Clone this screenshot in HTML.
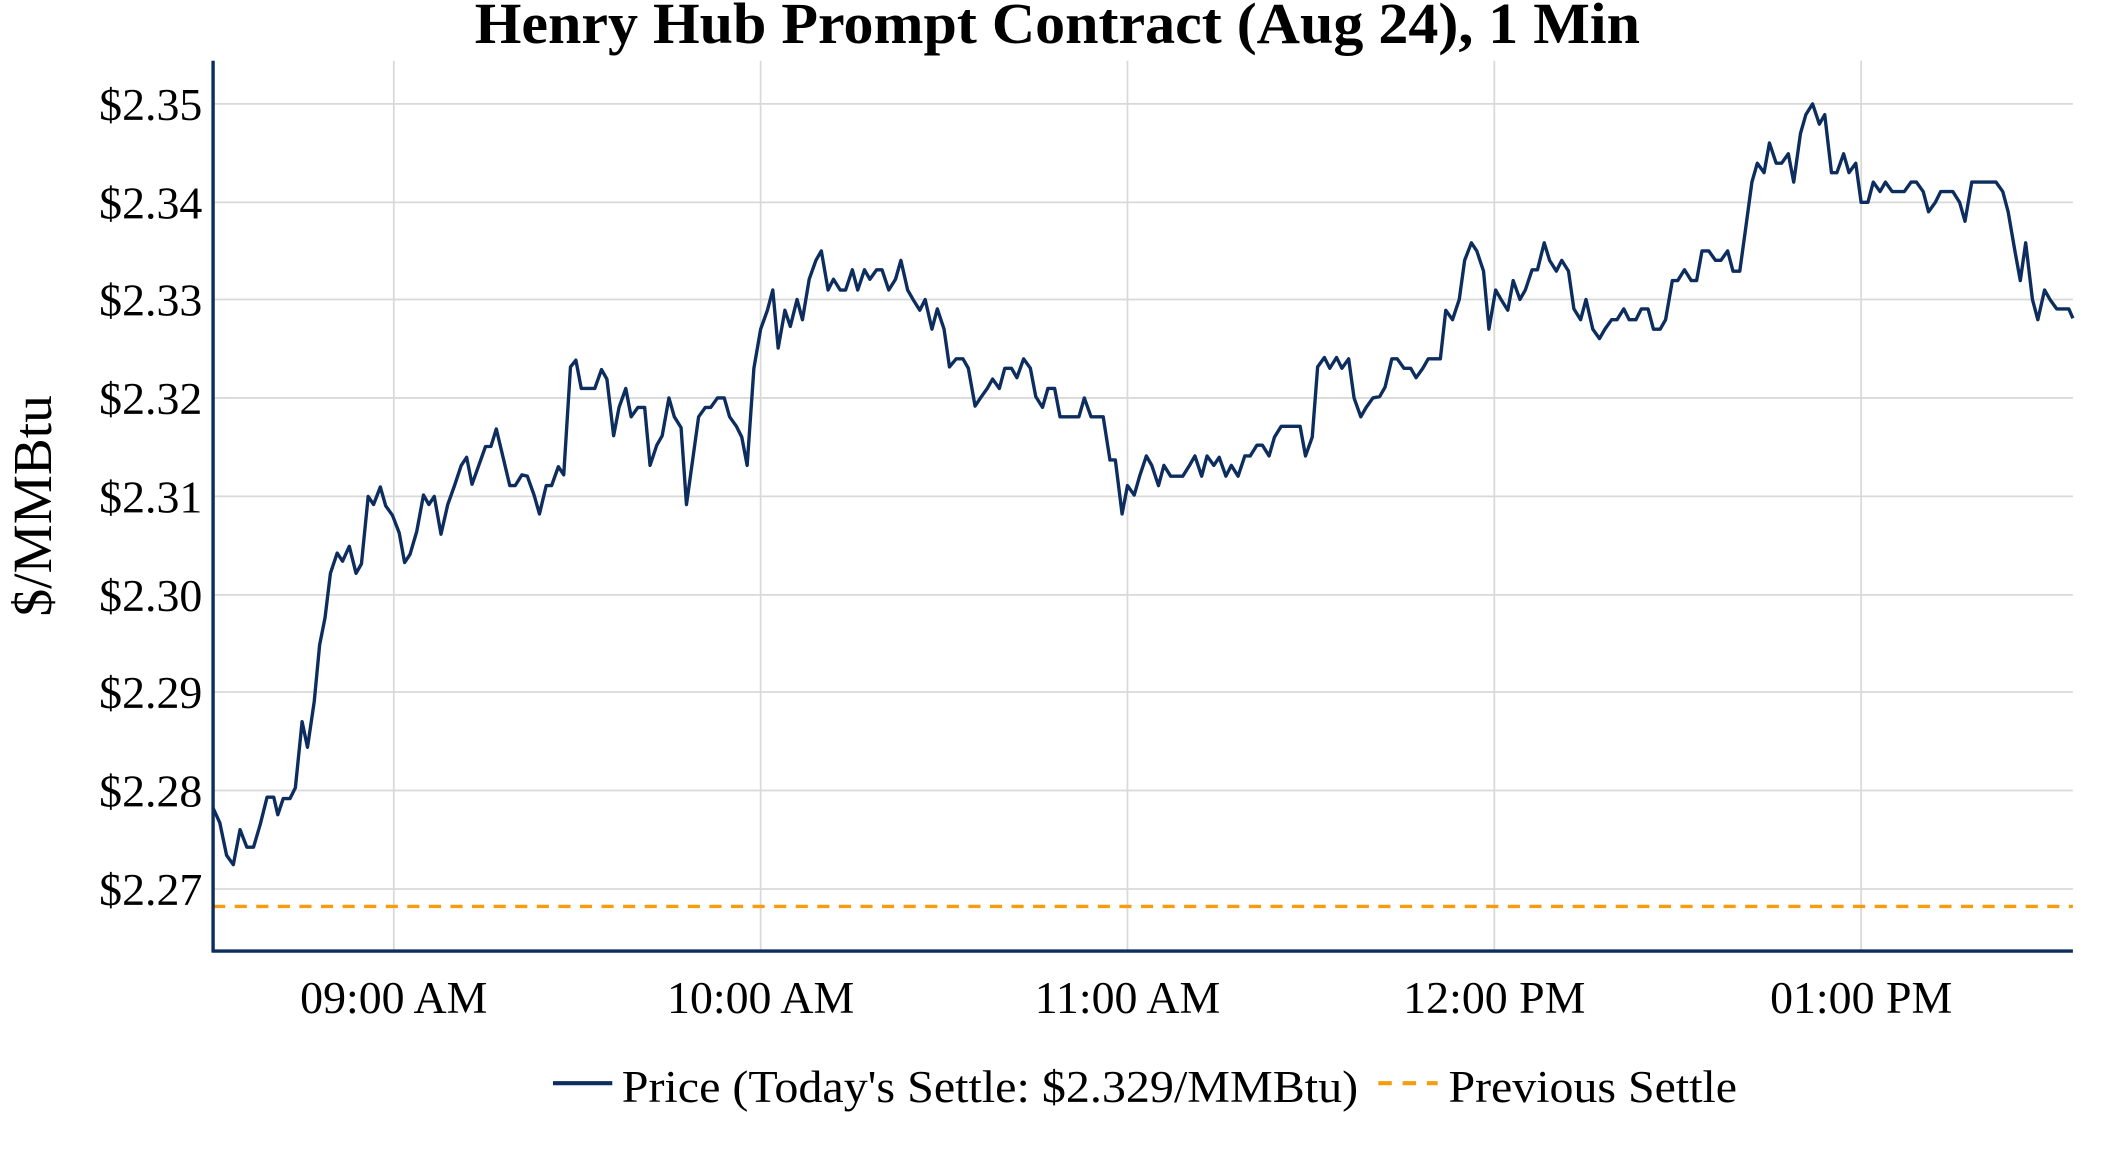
<!DOCTYPE html>
<html><head><meta charset="utf-8"><style>
html,body{margin:0;padding:0;background:#fff;}
svg{display:block;}
text{font-family:"Liberation Serif",serif;fill:#000;}
</style></head><body>
<svg width="2112" height="1152" viewBox="0 0 1566 854" preserveAspectRatio="none" xmlns="http://www.w3.org/2000/svg">
<rect width="1566" height="854" fill="#fff"/>
<g>
<text x="784" y="32" text-anchor="middle" font-size="43" font-weight="bold" textLength="864" lengthAdjust="spacingAndGlyphs">Henry Hub Prompt Contract (Aug 24), 1 Min</text>
<g stroke="#d9d9d9" stroke-width="1.3">
<line x1="158" x2="1537" y1="77" y2="77"/><line x1="158" x2="1537" y1="150" y2="150"/>
<line x1="158" x2="1537" y1="222" y2="222"/><line x1="158" x2="1537" y1="295" y2="295"/>
<line x1="158" x2="1537" y1="368" y2="368"/><line x1="158" x2="1537" y1="441" y2="441"/>
<line x1="158" x2="1537" y1="513" y2="513"/><line x1="158" x2="1537" y1="586" y2="586"/>
<line x1="158" x2="1537" y1="659" y2="659"/>
<line x1="292" x2="292" y1="45" y2="705"/><line x1="564" x2="564" y1="45" y2="705"/>
<line x1="836" x2="836" y1="45" y2="705"/><line x1="1108" x2="1108" y1="45" y2="705"/>
<line x1="1380" x2="1380" y1="45" y2="705"/>
</g>
<line x1="158" x2="1537" y1="672" y2="672" stroke="#f89c0e" stroke-width="2.5" stroke-dasharray="9,7"/>
<polyline fill="none" stroke="#0c2d5e" stroke-width="2.5" stroke-linejoin="round" points="158,599 163,610 168,634 173,641 178,615 183,628 188,628 193,611 198,591 203,591 206,604 210,592 215,592 219,584 224,535 228,554 233,520 237,478 241,458 245,425 250,410 254,416 259,405 264,425 268,418 273,368 277,374 282,361 286,375 291,382 296,395 300,417 304,411 309,394 314,367 318,374 322,368 327,396 332,374 337,360 342,345 346,339 350,359 355,345 360,331 364,331 368,318 373,339 378,360 382,360 387,352 391,353 396,367 400,381 405,360 409,360 414,346 418,352 423,272 427,267 431,288 436,288 441,288 446,274 450,281 455,323 459,302 464,288 468,309 473,302 478,302 482,345 487,330 491,323 496,295 500,309 505,317 509,374 514,338 518,309 523,302 527,302 532,295 537,295 541,309 546,316 550,324 554,345 559,273 564,244 569,230 573,215 577,258 582,230 586,242 591,222 595,237 600,207 605,193 609,186 614,215 618,207 623,215 627,215 632,200 636,215 641,200 645,207 650,200 654,200 659,215 664,207 668,193 673,215 677,222 682,230 686,222 691,244 695,229 700,244 704,272 709,266 714,266 718,273 723,301 727,295 732,288 736,281 741,288 745,273 750,273 754,280 759,266 764,273 768,294 773,302 777,288 782,288 786,309 795,309 800,309 804,295 809,309 818,309 823,341 827,341 832,381 836,360 841,367 845,353 850,338 854,345 859,360 863,345 868,353 877,353 882,345 886,338 891,353 895,338 900,345 904,339 909,353 913,345 918,353 923,338 927,338 932,330 936,330 941,338 945,324 950,316 959,316 964,316 968,338 973,324 977,272 982,265 986,273 991,265 995,273 1000,266 1004,295 1009,309 1013,302 1018,295 1023,294 1027,287 1032,266 1036,266 1041,273 1046,273 1050,280 1055,273 1059,266 1068,266 1072,230 1077,237 1082,222 1086,193 1091,180 1095,186 1100,201 1104,244 1109,215 1113,222 1118,230 1122,208 1127,222 1131,215 1136,200 1140,200 1145,180 1149,193 1154,201 1158,193 1163,201 1167,229 1172,237 1176,222 1181,244 1186,251 1190,244 1195,237 1199,237 1204,229 1208,237 1213,237 1217,229 1222,229 1226,244 1231,244 1235,237 1240,208 1244,208 1249,200 1254,208 1258,208 1262,186 1267,186 1272,193 1276,193 1281,186 1285,201 1290,201 1294,172 1299,135 1303,121 1308,128 1312,106 1317,121 1321,121 1326,114 1330,135 1335,99 1339,85 1344,77 1349,92 1353,85 1358,128 1362,128 1367,114 1371,128 1376,121 1380,150 1385,150 1389,135 1394,142 1398,135 1403,142 1412,142 1417,135 1421,135 1426,142 1430,157 1435,150 1439,142 1448,142 1453,150 1457,164 1462,135 1480,135 1485,142 1489,157 1494,186 1498,208 1502,180 1507,222 1511,237 1516,215 1520,222 1525,229 1534,229 1537,236"/>
<line x1="158" x2="158" y1="45" y2="706" stroke="#0c2d5e" stroke-width="2.5"/>
<line x1="157" x2="1537" y1="705" y2="705" stroke="#0c2d5e" stroke-width="2.5"/>
<g font-size="34" text-anchor="end">
<text x="150" y="89">$2.35</text><text x="150" y="162">$2.34</text><text x="150" y="234">$2.33</text>
<text x="150" y="307">$2.32</text><text x="150" y="380">$2.31</text><text x="150" y="453">$2.30</text>
<text x="150" y="525">$2.29</text><text x="150" y="598">$2.28</text><text x="150" y="671">$2.27</text>
</g>
<g font-size="34" text-anchor="middle">
<text x="292" y="751">09:00 AM</text><text x="564" y="751">10:00 AM</text><text x="836" y="751">11:00 AM</text>
<text x="1108" y="751">12:00 PM</text><text x="1380" y="751">01:00 PM</text>
</g>
<text transform="translate(38,375) rotate(-90)" text-anchor="middle" font-size="41">$/MMBtu</text>
<line x1="410" x2="454" y1="803" y2="803" stroke="#0c2d5e" stroke-width="3"/>
<text x="461" y="817" font-size="34" textLength="546" lengthAdjust="spacingAndGlyphs">Price (Today's Settle: $2.329/MMBtu)</text>
<line x1="1022" x2="1066" y1="803" y2="803" stroke="#f89c0e" stroke-width="3" stroke-dasharray="10,8"/>
<text x="1074" y="817" font-size="34" textLength="214" lengthAdjust="spacingAndGlyphs">Previous Settle</text>
</g>
</svg>
</body></html>
